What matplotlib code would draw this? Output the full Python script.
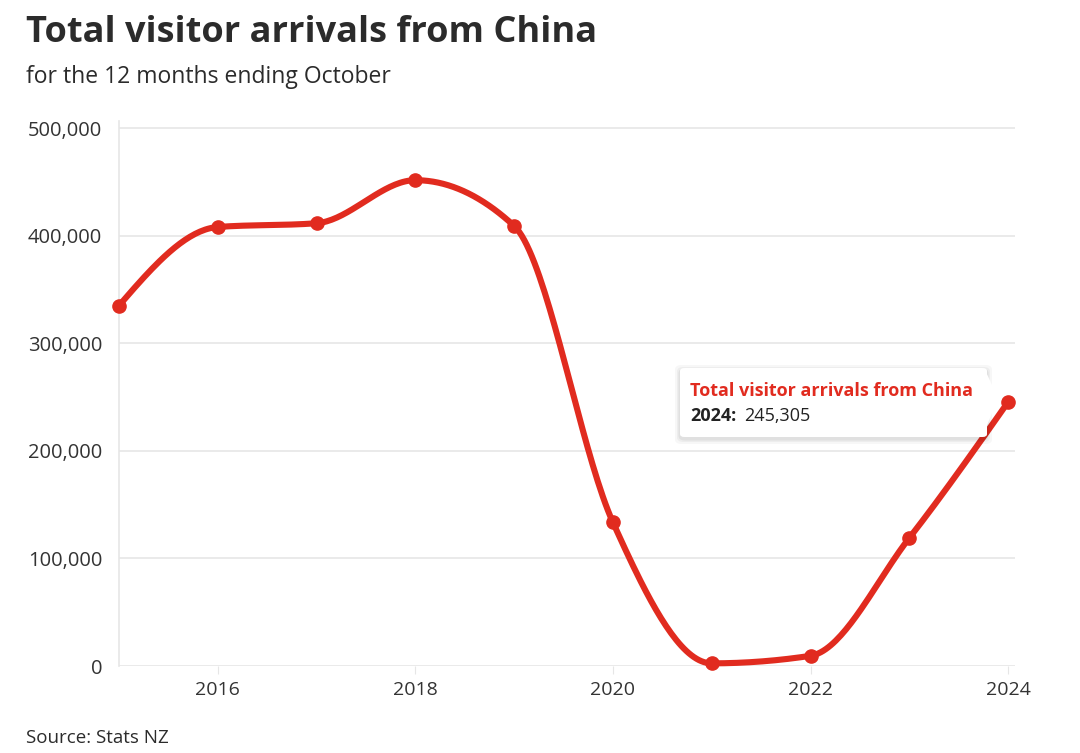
import numpy as np
import matplotlib.pyplot as plt
from matplotlib.patches import FancyBboxPatch, Polygon

years = [2015, 2016, 2017, 2018, 2019, 2020, 2021, 2022, 2023, 2024]
arrivals = [335000, 408000, 411500, 451500, 409000, 133500, 2500, 9500, 119000, 245305]
y_ticks = [0, 100000, 200000, 300000, 400000, 500000]
x_ticks = [2016, 2018, 2020, 2022, 2024]

RED = '#e12b1f'
plt.rcParams['font.family'] = ['Open Sans', 'DejaVu Sans']


def monotone_curve(x, y, n=40):
    # d3 curveMonotoneX style smoothing between the data points
    x = np.asarray(x, float)
    y = np.asarray(y, float)
    h = np.diff(x)
    s = np.diff(y) / h
    m = np.zeros_like(y)
    for i in range(1, len(x) - 1):
        if s[i - 1] * s[i] <= 0:
            m[i] = 0
        else:
            p = (s[i - 1] * h[i] + s[i] * h[i - 1]) / (h[i - 1] + h[i])
            m[i] = (np.sign(s[i - 1]) + np.sign(s[i])) * min(abs(s[i - 1]), abs(s[i]), 0.5 * abs(p))
    m[0] = (3 * s[0] - m[1]) / 2
    m[-1] = (3 * s[-1] - m[-2]) / 2
    xs, ys = [], []
    for i in range(len(x) - 1):
        t = np.linspace(0, 1, n)
        h00 = 2 * t**3 - 3 * t**2 + 1
        h10 = t**3 - 2 * t**2 + t
        h01 = -2 * t**3 + 3 * t**2
        h11 = t**3 - t**2
        xs.append(x[i] + t * h[i])
        ys.append(h00 * y[i] + h10 * h[i] * m[i] + h01 * y[i + 1] + h11 * h[i] * m[i + 1])
    return np.concatenate(xs), np.concatenate(ys)


fig = plt.figure(figsize=(10.8, 7.53), dpi=100)
ax = fig.add_axes([0.1102, 0.1155, 0.8296, 0.7238])

cx, cy = monotone_curve(years, arrivals)
ax.plot(cx, cy, color=RED, lw=4.4, solid_capstyle='round', zorder=3, clip_on=False)
ax.plot(years, arrivals, 'o', color=RED, ms=9.5, zorder=4, clip_on=False)

ax.set_xlim(2015, 2024.07)
ax.set_ylim(0, 506500)
ax.set_yticks(y_ticks)
ax.set_yticklabels([f'{v:,}' for v in y_ticks])
ax.set_xticks(x_ticks)
ax.grid(axis='y', color='#e6e6e6', lw=1.2)
ax.set_axisbelow(True)
for side in ['top', 'right', 'bottom']:
    ax.spines[side].set_visible(False)
ax.spines['left'].set_color('#e6e6e6')
ax.spines['left'].set_linewidth(1.2)
ax.tick_params(axis='y', length=0, pad=12, labelsize=14.5, labelcolor='#333333')
ax.tick_params(axis='x', length=6, color='#e6e6e6', pad=5, labelsize=14, labelcolor='#333333')

# tooltip for 2024 with a soft shadow
bx, by, bw, bh = 680 / 1080, 1 - 437 / 753, 307 / 1080, 69 / 753
for k, a in [(5, 0.03), (3, 0.04), (1.5, 0.05)]:
    dx, dy = k / 1080, k / 753
    fig.patches.append(FancyBboxPatch((bx - dx, by - dy - 2 / 753), bw + 2 * dx, bh + 2 * dy,
                                      boxstyle='round,pad=0,rounding_size=0.006',
                                      transform=fig.transFigure, facecolor='black', alpha=a,
                                      edgecolor='none', zorder=9))
fig.patches.append(FancyBboxPatch((bx, by), bw, bh, boxstyle='round,pad=0,rounding_size=0.004',
                                  transform=fig.transFigure, facecolor='white',
                                  edgecolor='none', zorder=10))
fig.patches.append(Polygon([(986 / 1080, 1 - 372 / 753), (998 / 1080, 1 - 398 / 753),
                            (986 / 1080, 1 - 428 / 753)],
                           closed=True, transform=fig.transFigure, facecolor='white',
                           edgecolor='none', zorder=10))
fig.text(690 / 1080, 1 - 391 / 753, 'Total visitor arrivals from China', color=RED,
         fontsize=13, fontweight='bold', va='center', ha='left', zorder=11)
fig.text(690 / 1080, 1 - 416 / 753, '2024:', color='#222222', fontsize=13, fontweight='bold',
         va='center', ha='left', zorder=11)
fig.text(744 / 1080, 1 - 416 / 753, f'{arrivals[-1]:,}', color='#222222', fontsize=13,
         va='center', ha='left', zorder=11)

fig.text(26 / 1080, 1 - 33 / 753, 'Total visitor arrivals from China', fontsize=26,
         fontweight='bold', color='#2b2b2b', va='center', ha='left')
fig.text(26 / 1080, 1 - 77 / 753, 'for the 12 months ending October', fontsize=16.5,
         color='#2b2b2b', va='center', ha='left')
fig.text(26 / 1080, 1 - 738 / 753, 'Source: Stats NZ', fontsize=13.5,
         color='#2b2b2b', va='center', ha='left')

fig.savefig('out.png', dpi=100)
